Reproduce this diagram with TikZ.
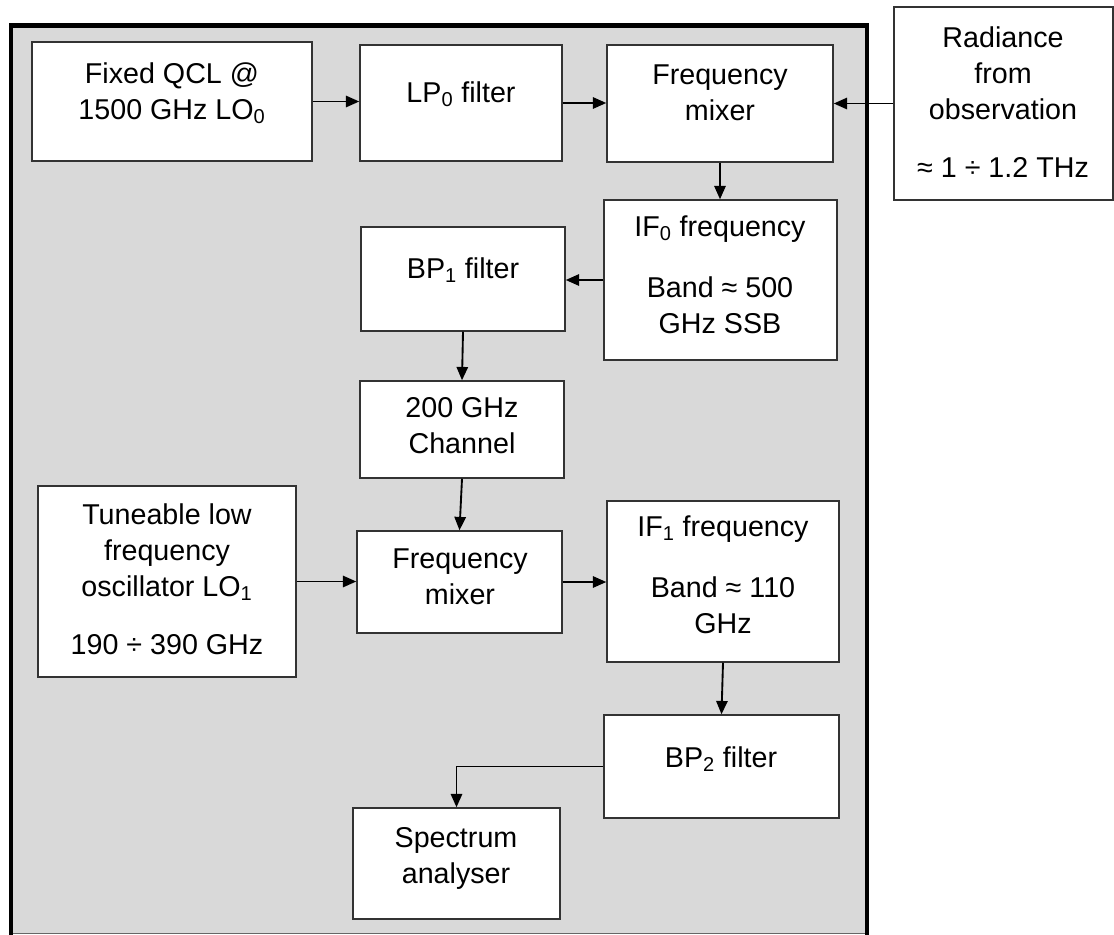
\documentclass[tikz,border=0pt]{standalone}
\usepackage{fontspec}
\setmainfont{Liberation Sans}
\usetikzlibrary{arrows.meta,fit}
\definecolor{panel}{HTML}{D9D9D9}
\begin{document}
\begin{tikzpicture}[x=0.75pt,y=-0.75pt,
  blk/.style={draw=black!80, line width=1.1pt, fill=white, inner sep=0pt},
  txt/.style={font=\fontsize{21.5}{27}\selectfont, align=center, anchor=base, inner sep=0pt},
  conn/.style={line width=1.4pt, -{Triangle[length=10pt,width=8.5pt]}}]
\useasboundingbox (0,0) rectangle (1114,935);
% panel
\fill[panel] (11,25.5) rectangle (867,934);
\draw[black!60, line width=0.8pt] (11,933.5) -- (867,933.5);
\draw[line width=3.5pt] (11,935) -- (11,25.5) -- (867,25.5) -- (867,935);
% boxes
\node[blk, fit={(32,42) (312,161)}] (qcl) {};
\node[blk, fit={(360,45) (562,161)}] (lp) {};
\node[blk, fit={(607,45) (833,162)}] (mixa) {};
\node[blk, fit={(894,7) (1113,200)}] (rad) {};
\node[blk, fit={(604,200) (837,360)}] (ifa) {};
\node[blk, fit={(361,227) (565,331)}] (bpa) {};
\node[blk, fit={(360,381) (564,478)}] (chan) {};
\node[blk, fit={(38,486) (296,677)}] (tune) {};
\node[blk, fit={(357,531) (562,633)}] (mixb) {};
\node[blk, fit={(607,501) (839,662)}] (ifb) {};
\node[blk, fit={(604,715) (839,818)}] (bpb) {};
\node[blk, fit={(353,808) (560,919)}] (spec) {};
% texts (anchored at the baseline of their last line)
\node[txt] (tqcl) at (172,119) {Fixed QCL @\\1500 GHz LO\textsubscript{0}};
\node[txt] (tlp) at (461,102) {LP\textsubscript{0} filter};
\node[txt] (tmixa) at (720,120) {Frequency\\mixer};
\node[txt] (trad) at (1003,177) {Radiance\\from\\observation\\[16.5pt]≈ 1 ÷ 1.2 THz};
\node[txt] (tifa) at (720,333) {IF\textsubscript{0} frequency\\[18.75pt]Band ≈ 500\\GHz SSB};
\node[txt] (tbpa) at (463,278) {BP\textsubscript{1} filter};
\node[txt] (tchan) at (462,453) {200 GHz\\Channel};
\node[txt] (ttune) at (167,654) {Tuneable low\\frequency\\oscillator LO\textsubscript{1}\\[16.5pt]190 ÷ 390 GHz};
\node[txt] (tmixb) at (460,604) {Frequency\\mixer};
\node[txt] (tifb) at (723,633) {IF\textsubscript{1} frequency\\[18.75pt]Band ≈ 110\\GHz};
\node[txt] (tbpb) at (721,767) {BP\textsubscript{2} filter};
\node[txt] (tspec) at (456,883) {Spectrum\\analyser};
% connectors
\draw[conn] (qcl.east) -- (qcl.east -| lp.west);
\draw[conn] (lp.east) -- (lp.east -| mixa.west);
\draw[conn] (rad.west) -- (rad.west -| mixa.east);
\draw[conn] (mixa.south) -- (mixa.south |- ifa.north);
\draw[conn] (ifa.west) -- (ifa.west -| bpa.east);
\draw[conn] (bpa.south) -- (chan.north);
\draw[conn] (chan.south) -- (mixb.north);
\draw[conn] (tune.east) -- (tune.east -| mixb.west);
\draw[conn] (mixb.east) -- (mixb.east -| ifb.west);
\draw[conn] (ifb.south) -- (bpb.north);
\draw[conn] (bpb.west) -| (spec.north);
\end{tikzpicture}
\end{document}
